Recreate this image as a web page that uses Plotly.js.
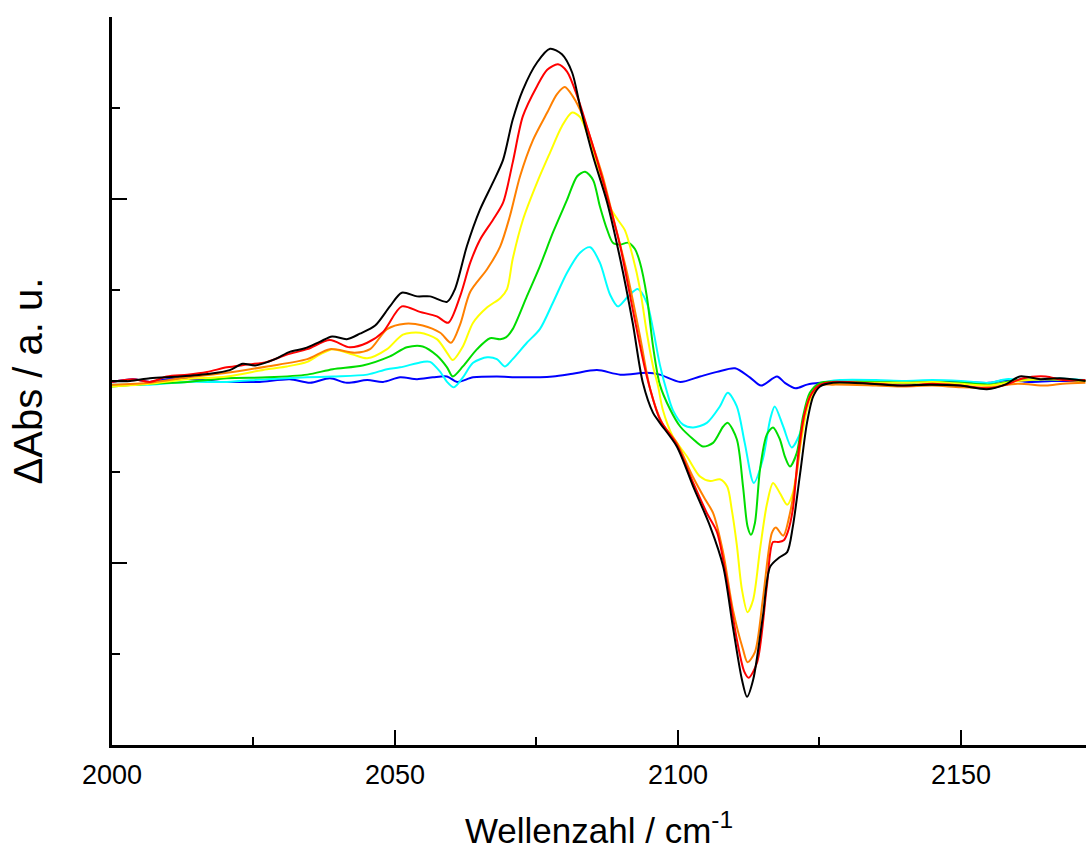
<!DOCTYPE html>
<html>
<head>
<meta charset="utf-8">
<script src="https://cdn.plot.ly/plotly-3.0.1.min.js"></script>
<style>html,body{margin:0;padding:0;background:#fff;}#chart{width:1086px;height:850px;}</style>
</head>
<body>
<div id="chart"></div>
<script>
// Series data (wavenumber in cm^-1, ΔAbs in arbitrary units)
const blackX = [2000,2003.2,2006.7,2012.0,2017.3,2020.8,2023.1,2025.3,2028.8,2031.4,2034.1,2036.7,2038.9,2041.5,2043.8,2046.5,2049.1,2051.2,2053.9,2056.2,2059.2,2060.6,2062.7,2065.0,2067.3,2069.1,2070.8,2072.6,2075.1,2077.4,2079.5,2081.3,2082.7,2085.0,2087.5,2089.8,2092.0,2093.8,2095.6,2096.8,2099.8,2102.7,2105.7,2108.0,2109.7,2111.3,2112.2,2113.3,2115.0,2116.3,2117.9,2119.3,2120.3,2121.6,2122.8,2123.9,2125.1,2127.4,2133.9,2139.2,2144.5,2149.8,2154.6,2157.8,2160.4,2164.0,2167.5,2172];
const blackY = [0.00,0.00,0.03,0.05,0.08,0.12,0.19,0.17,0.24,0.32,0.36,0.43,0.49,0.46,0.52,0.61,0.82,0.97,0.93,0.93,0.87,1.01,1.48,1.88,2.18,2.43,2.87,3.20,3.50,3.65,3.59,3.39,3.02,2.47,1.96,1.34,0.64,-0.02,-0.35,-0.46,-0.72,-1.16,-1.60,-2.04,-2.70,-3.28,-3.47,-3.28,-2.59,-2.04,-1.94,-1.88,-1.60,-1.01,-0.46,-0.17,-0.06,-0.02,-0.03,-0.05,-0.04,-0.05,-0.09,-0.04,0.05,0.02,0.03,0.00];

const redX = [2000,2003.7,2006.7,2009.7,2013.3,2016.8,2020.3,2023.9,2027.4,2030.9,2034.5,2038.5,2042.0,2045.1,2047.9,2051.2,2054.4,2057.4,2059.4,2061.5,2063.3,2065.0,2067.3,2069.1,2070.8,2072.6,2075.1,2076.9,2078.8,2080.4,2082.2,2083.9,2085.7,2087.5,2089.8,2092.0,2094.5,2096.8,2099.8,2102.7,2105.1,2106.9,2108.7,2110.4,2111.7,2112.5,2114.0,2115.7,2116.8,2117.8,2118.7,2119.4,2120.3,2121.2,2122.4,2123.7,2125.1,2127.4,2135,2140,2145,2150,2155,2158,2161,2165,2168,2172];
const redY = [-0.01,0.02,-0.01,0.05,0.07,0.10,0.15,0.18,0.21,0.29,0.35,0.45,0.37,0.42,0.54,0.82,0.76,0.71,0.64,0.93,1.30,1.55,1.77,1.96,2.40,2.91,3.24,3.42,3.48,3.40,3.13,2.80,2.43,2.03,1.48,0.79,0.05,-0.42,-0.70,-1.12,-1.45,-1.66,-2.21,-2.84,-3.19,-3.26,-3.09,-2.26,-1.77,-1.77,-1.75,-1.66,-1.41,-0.83,-0.35,-0.13,-0.04,-0.01,-0.03,-0.05,-0.03,-0.05,-0.08,-0.04,0.03,0.05,0.01,0.01];

const orangeX = [2000,2006.7,2013.3,2020.3,2027.4,2034.5,2038.5,2042.9,2045.6,2048.6,2051.8,2054.9,2058.0,2059.9,2061.5,2063.3,2066.3,2068.6,2070.3,2072.1,2074.4,2076.9,2078.6,2080.0,2081.4,2083.2,2085.0,2086.7,2088.5,2091.0,2093.3,2095.1,2097.2,2099.8,2102.7,2104.8,2106.2,2108.0,2109.7,2111.5,2112.3,2113.6,2115.0,2116.6,2117.3,2118.6,2119.8,2121.0,2122.1,2123.3,2125.1,2127.4,2135,2140,2145,2150,2155,2160,2165,2168,2172];
const orangeY = [-0.04,-0.02,0.04,0.09,0.16,0.24,0.35,0.31,0.35,0.57,0.63,0.61,0.53,0.42,0.62,0.98,1.23,1.48,1.81,2.25,2.65,2.95,3.15,3.23,3.13,2.91,2.58,2.25,1.81,1.19,0.49,-0.09,-0.46,-0.68,-1.06,-1.30,-1.45,-1.89,-2.51,-2.95,-3.09,-2.98,-2.40,-1.67,-1.61,-1.70,-1.45,-1.01,-0.46,-0.17,-0.05,-0.04,-0.05,-0.06,-0.05,-0.07,-0.07,-0.03,-0.05,-0.03,-0.02];

const yellowX = [2000,2006.7,2013.3,2020.3,2027.4,2030.9,2034.5,2036.7,2039.0,2042.6,2045.1,2048.6,2051.4,2054.4,2057.4,2059.2,2060.2,2062.0,2063.8,2066.3,2068.6,2069.8,2070.8,2072.6,2075.1,2077.4,2079.5,2081.3,2082.7,2084.5,2086.2,2088.0,2089.4,2090.6,2092.0,2093.3,2094.5,2095.6,2096.5,2097.3,2099.1,2101.6,2103.9,2105.7,2107.4,2108.7,2109.5,2110.4,2111.3,2112.3,2113.3,2114.5,2115.7,2116.8,2118.0,2119.3,2120.3,2121.6,2122.8,2123.9,2125.6,2128.6,2135,2140,2145,2150,2155,2160,2165,2172];
const yellowY = [-0.06,-0.03,0.02,0.05,0.13,0.16,0.21,0.29,0.35,0.29,0.25,0.35,0.51,0.53,0.46,0.31,0.23,0.38,0.64,0.81,0.91,1.01,1.34,1.77,2.18,2.51,2.80,2.95,2.90,2.62,2.25,1.91,1.77,1.66,1.37,1.01,0.53,0.16,-0.06,-0.31,-0.61,-0.83,-1.05,-1.10,-1.08,-1.16,-1.41,-1.80,-2.29,-2.54,-2.40,-1.85,-1.36,-1.12,-1.23,-1.36,-1.23,-0.72,-0.31,-0.13,-0.04,-0.02,-0.02,-0.02,-0.01,-0.03,-0.05,0.00,0.02,0.00];

const greenX = [2000,2006.7,2013.3,2020.3,2027.4,2034.5,2039.0,2044.3,2049.1,2052.1,2054.9,2057.4,2059.2,2060.2,2062.0,2064.5,2066.8,2068.6,2069.6,2070.8,2073.3,2075.6,2077.9,2080.4,2082.2,2083.6,2085.0,2086.2,2087.5,2088.5,2089.8,2091.2,2092.4,2093.3,2094.5,2095.6,2096.8,2098.6,2100.4,2102.7,2104.4,2106.2,2108.0,2108.8,2110.4,2111.5,2112.3,2112.9,2113.6,2114.5,2115.7,2116.8,2118.0,2118.9,2119.8,2121.0,2122.1,2123.3,2125.1,2128.6,2135,2140,2145,2150,2155,2160,2165,2172];
const greenY = [-0.06,-0.03,-0.01,0.03,0.04,0.07,0.13,0.17,0.27,0.37,0.38,0.28,0.15,0.05,0.16,0.35,0.47,0.46,0.48,0.57,0.93,1.26,1.63,1.99,2.25,2.30,2.21,1.92,1.66,1.52,1.50,1.52,1.45,1.30,0.93,0.38,-0.04,-0.31,-0.50,-0.64,-0.72,-0.68,-0.50,-0.46,-0.64,-1.16,-1.60,-1.69,-1.56,-0.97,-0.59,-0.51,-0.64,-0.83,-0.94,-0.79,-0.39,-0.13,-0.02,-0.01,-0.01,-0.02,-0.01,-0.02,-0.04,0.01,0.02,0.00];

const cyanX = [2000,2006.7,2013.3,2020.3,2027.4,2034.5,2039.0,2045.1,2048.6,2050.9,2054.9,2056.2,2058.0,2059.2,2060.4,2062.0,2063.8,2066.3,2068.0,2069.4,2070.8,2073.3,2075.6,2077.9,2080.4,2082.7,2084.5,2086.2,2088.0,2089.4,2091.2,2092.9,2094.5,2095.6,2096.8,2098.1,2099.1,2100.9,2102.7,2105.1,2107.4,2108.8,2110.4,2111.8,2113.4,2115.0,2116.3,2117.1,2118.6,2120.1,2121.6,2122.8,2123.9,2125.6,2128.6,2135,2140,2145,2150,2155,2158,2162,2166,2172];
const cyanY = [-0.04,-0.04,-0.01,-0.01,0.02,0.04,0.05,0.07,0.13,0.15,0.21,0.21,0.10,-0.01,-0.07,0.04,0.20,0.26,0.24,0.16,0.24,0.42,0.57,0.86,1.19,1.41,1.47,1.30,0.95,0.82,0.93,1.01,0.86,0.57,0.18,-0.13,-0.32,-0.48,-0.51,-0.46,-0.28,-0.13,-0.28,-0.68,-1.12,-0.86,-0.42,-0.28,-0.50,-0.73,-0.57,-0.24,-0.09,-0.02,0.01,0.01,0.00,0.01,0.00,-0.02,0.02,0.01,0.03,0.01];

const blueX = [2000,2003.7,2006.7,2009.7,2014.3,2019.1,2022.6,2026.1,2031.4,2035.0,2038.5,2041.5,2045.1,2047.9,2050.9,2053.9,2056.7,2059.2,2061.0,2063.8,2068.0,2072.1,2077.9,2081.4,2085.7,2089.8,2094.5,2096.8,2100.4,2103.9,2106.9,2110.1,2112.7,2114.7,2117.5,2118.9,2120.8,2122.8,2125.1,2128.6,2135,2140,2145,2150,2155,2158,2162,2166,2172];
const blueY = [-0.01,0.02,-0.01,0.02,0.02,-0.01,-0.01,-0.01,0.02,-0.02,0.03,-0.02,0.01,-0.01,0.04,0.02,0.04,0.05,-0.01,0.04,0.05,0.04,0.05,0.08,0.12,0.07,0.09,0.07,-0.01,0.05,0.10,0.14,0.04,-0.05,0.05,-0.02,-0.08,-0.04,-0.02,-0.01,-0.01,-0.02,0.00,-0.01,-0.02,0.01,-0.01,0.00,0.00];

const xTickVals = [2000, 2050, 2100, 2150];
const xTickText = ['2000', '2050', '2100', '2150'];

const seriesList = [
  {x: blueX, y: blueY, c: '#0000FF'},
  {x: cyanX, y: cyanY, c: '#00FFFF'},
  {x: greenX, y: greenY, c: '#00DD00'},
  {x: yellowX, y: yellowY, c: '#FFFF00'},
  {x: orangeX, y: orangeY, c: '#FF8000'},
  {x: redX, y: redY, c: '#FF0000'},
  {x: blackX, y: blackY, c: '#000000'}
];

const traces = seriesList.map(s => ({
  x: s.x, y: s.y, type: 'scatter', mode: 'lines',
  line: {color: s.c, width: 2, shape: 'spline', smoothing: 0.8},
  hoverinfo: 'skip', showlegend: false
}));

const fontFam = '"Liberation Sans", Arial, sans-serif';

const layout = {
  width: 1086, height: 850,
  margin: {l: 112, r: 0, t: 17, b: 105, pad: 0},
  paper_bgcolor: '#fff', plot_bgcolor: '#fff',
  showlegend: false,
  font: {family: fontFam, color: '#000'},
  xaxis: {
    range: [2000, 2172.1],
    tickvals: xTickVals, ticktext: xTickText,
    ticks: 'inside', ticklen: 15, tickwidth: 2, tickcolor: '#000',
    minor: {dtick: 25, tick0: 2000, ticks: 'inside', ticklen: 8, tickwidth: 2, tickcolor: '#000', showgrid: false},
    showline: true, linewidth: 3, linecolor: '#000',
    showgrid: false, zeroline: false,
    tickfont: {size: 27, family: fontFam, color: '#000'},
    ticklabelstandoff: 4,
    title: {text: 'Wellenzahl / cm<sup>-1</sup>', font: {size: 35, family: fontFam, color: '#000'}, standoff: 33},
    automargin: false
  },
  yaxis: {
    range: [-4, 4],
    tick0: 0, dtick: 2,
    ticks: 'inside', ticklen: 15, tickwidth: 2, tickcolor: '#000',
    minor: {dtick: 1, tick0: 0, ticks: 'inside', ticklen: 8, tickwidth: 2, tickcolor: '#000', showgrid: false},
    showticklabels: false,
    showline: true, linewidth: 3, linecolor: '#000',
    showgrid: false, zeroline: false,
    title: {text: 'ΔAbs / a. u.', font: {size: 40, family: fontFam, color: '#000'}, standoff: 55},
    automargin: false
  }
};

Plotly.newPlot('chart', traces, layout, {displayModeBar: false, staticPlot: true});
</script>
</body>
</html>
